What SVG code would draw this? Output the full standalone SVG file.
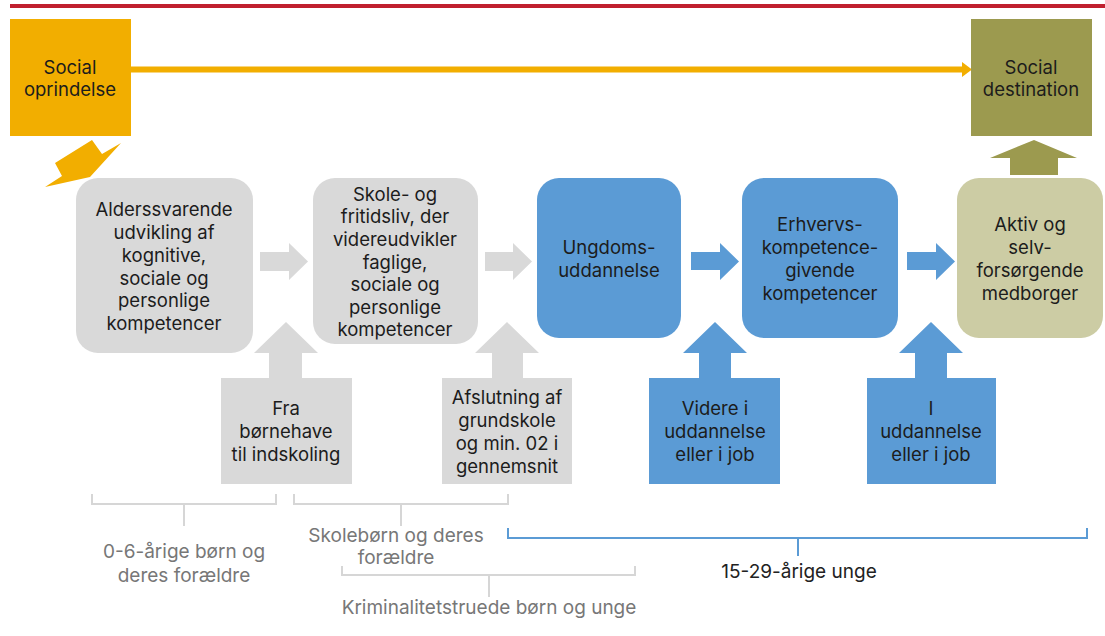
<svg xmlns="http://www.w3.org/2000/svg" width="1105" height="636" viewBox="0 0 1105 636">
<style>
text{font-family:Inter,"Noto Sans","Liberation Sans",sans-serif;font-size:18.5px;fill:#1c1c1c;text-anchor:middle}
.lbl{fill:#777;font-size:19px}
.dk{fill:#222;font-size:19px}
.gray{fill:#D9D9D9}
.blue{fill:#5B9BD5}
.green{fill:#CCCCA4}
.orange{fill:#F2AE00}
.olive{fill:#9C9A4F}
.brg{fill:none;stroke:#D6D6D6;stroke-width:2}
.brb{fill:none;stroke:#5B9BD5;stroke-width:2}
</style>
<rect width="1105" height="636" fill="#fff"/>
<rect x="10" y="4" width="1095" height="4" fill="#C0202E"/>

<g id="connectors">
  <rect x="131" y="66.5" width="833" height="6" fill="#F2AE00"/>
  <polygon points="962,62 972,69.5 962,77" fill="#F2AE00"/>
  <polygon class="orange" points="45,187 62,176 55,163 92,140 102,154 121,143 90,177"/>
  <polygon class="olive" points="1034,140 1077,158 1058,158 1058,175 1010,175 1010,158 990,158"/>
  <polygon class="gray" points="260,252 289,252 289,243 308,261.5 289,280 289,271 260,271"/>
  <polygon class="gray" points="485,252 513,252 513,243 532,261.5 513,280 513,271 485,271"/>
  <polygon class="blue" points="691,252 720,252 720,243 739,261.5 720,280 720,270 691,270"/>
  <polygon class="blue" points="907,252 936,252 936,243 955,261.5 936,280 936,270 907,270"/>
  <polygon class="gray" points="286,322 318,353 302,353 302,379 269,379 269,353 254,353"/>
  <polygon class="gray" points="507,322 539,353 523,353 523,379 492,379 492,353 475,353"/>
  <polygon class="blue" points="715,322 747,353 731,353 731,379 699,379 699,353 683,353"/>
  <polygon class="blue" points="931,322 963,353 947,353 947,379 915,379 915,353 899,353"/>
</g>

<g id="social-oprindelse">
  <rect class="orange" x="10" y="19" width="121" height="117"/>
  <text x="70" y="74">Social</text>
  <text x="70" y="96">oprindelse</text>
</g>
<g id="social-destination">
  <rect class="olive" x="971" y="19" width="121" height="117"/>
  <text x="1031" y="74">Social</text>
  <text x="1031" y="96">destination</text>
</g>

<g id="node-alderssvarende">
  <rect class="gray" x="76" y="178" width="177" height="175" rx="22"/>
  <text x="164" y="216">Alderssvarende</text>
  <text x="164" y="239">udvikling af</text>
  <text x="164" y="262">kognitive,</text>
  <text x="164" y="285">sociale og</text>
  <text x="164" y="307">personlige</text>
  <text x="164" y="330">kompetencer</text>
</g>
<g id="node-skole">
  <rect class="gray" x="313" y="178" width="165" height="166" rx="22"/>
  <text x="395" y="201">Skole- og</text>
  <text x="395" y="223">fritidsliv, der</text>
  <text x="395" y="246">videreudvikler</text>
  <text x="395" y="269">faglige,</text>
  <text x="395" y="291">sociale og</text>
  <text x="395" y="314">personlige</text>
  <text x="395" y="336">kompetencer</text>
</g>
<g id="node-ungdom">
  <rect class="blue" x="537" y="178" width="144" height="160" rx="22"/>
  <text x="609" y="254">Ungdoms-</text>
  <text x="609" y="277">uddannelse</text>
</g>
<g id="node-erhverv">
  <rect class="blue" x="742" y="178" width="156" height="160" rx="22"/>
  <text x="820" y="231">Erhvervs-</text>
  <text x="820" y="254">kompetence-</text>
  <text x="820" y="277">givende</text>
  <text x="820" y="300">kompetencer</text>
</g>
<g id="node-aktiv">
  <rect class="green" x="957" y="178" width="146" height="160" rx="22"/>
  <text x="1030" y="231">Aktiv og</text>
  <text x="1030" y="254">selv-</text>
  <text x="1030" y="277">forsørgende</text>
  <text x="1030" y="300">medborger</text>
</g>

<g id="box-fra">
  <rect class="gray" x="221" y="378" width="131" height="106"/>
  <text x="286" y="415">Fra</text>
  <text x="286" y="438">børnehave</text>
  <text x="286" y="461">til indskoling</text>
</g>
<g id="box-afslutning">
  <rect class="gray" x="442" y="378" width="130" height="106"/>
  <text x="507" y="404">Afslutning af</text>
  <text x="507" y="427">grundskole</text>
  <text x="507" y="450">og min. 02 i</text>
  <text x="507" y="473">gennemsnit</text>
</g>
<g id="box-videre">
  <rect class="blue" x="649" y="378" width="131" height="106"/>
  <text x="715" y="415">Videre i</text>
  <text x="715" y="438">uddannelse</text>
  <text x="715" y="461">eller i job</text>
</g>
<g id="box-i-uddannelse">
  <rect class="blue" x="867" y="378" width="129" height="106"/>
  <text x="931" y="415">I</text>
  <text x="931" y="438">uddannelse</text>
  <text x="931" y="461">eller i job</text>
</g>

<g id="brackets">
  <path class="brg" d="M92,494 V504 H276 V494 M184,504 V526"/>
  <path class="brg" d="M294,494 V504 H508 V494 M401,504 V526"/>
  <path class="brg" d="M342,566 V575 H635 V566 M489,575 V597"/>
  <path class="brb" d="M508,528 V538 H1087 V528 M798,538 V556"/>
  <text class="lbl" x="184" y="558">0-6-årige børn og</text>
  <text class="lbl" x="184" y="582">deres forældre</text>
  <text class="lbl" x="396" y="542">Skolebørn og deres</text>
  <text class="lbl" x="396" y="564">forældre</text>
  <text class="lbl" x="489" y="614">Kriminalitetstruede børn og unge</text>
  <text class="dk" x="799" y="578">15-29-årige unge</text>
</g>
</svg>
